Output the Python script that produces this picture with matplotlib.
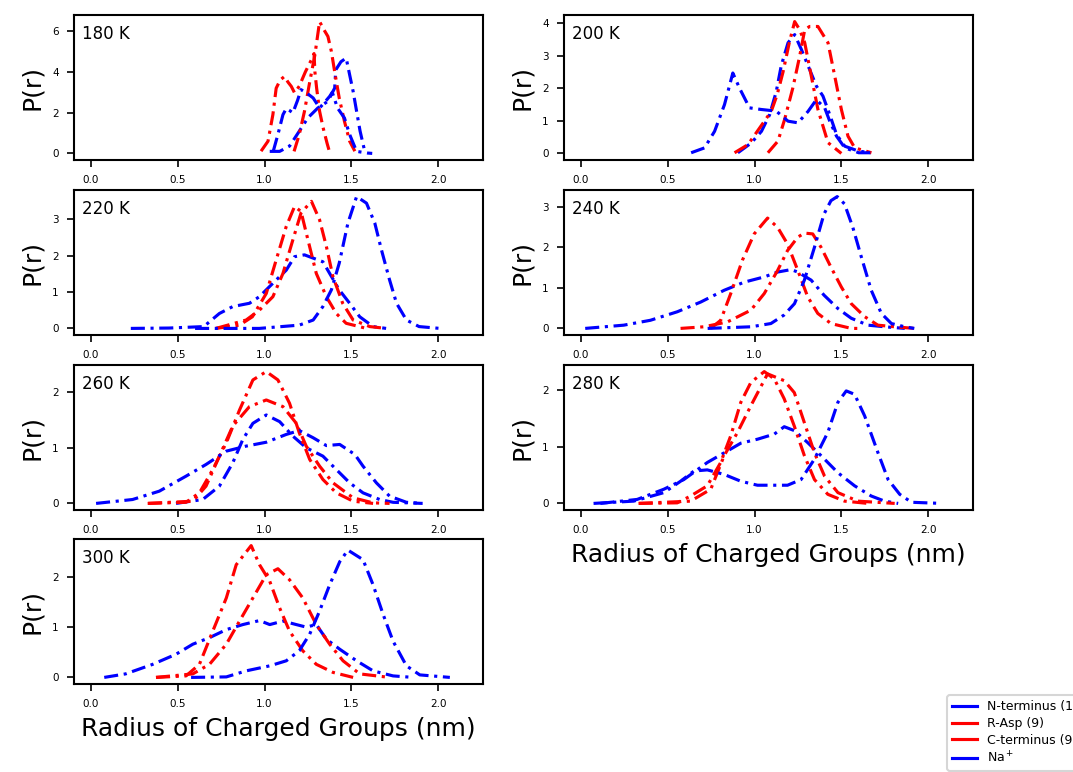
import matplotlib
matplotlib.use('Agg')
import matplotlib.pyplot as plt
from matplotlib.lines import Line2D
from matplotlib.ticker import MultipleLocator

temps = ['180 K', '200 K', '220 K', '240 K', '260 K', '280 K', '300 K']
labels = ['N-terminus (1)', 'R-Asp (9)', 'C-terminus (9)', 'Na$^+$']
colors = ['blue', 'red', 'red', 'blue']
ytick_step = [2, 1, 1, 1, 1, 1, 1]

# ---- 180 K ----
r180_nterm = [1.03, 1.087, 1.144, 1.2, 1.25, 1.307, 1.365, 1.404, 1.41, 1.44, 1.47, 1.49, 1.51, 1.53, 1.55, 1.577]
p180_nterm = [0.1, 0.1, 0.36, 1.09, 1.75, 2.23, 2.56, 3.21, 4.1, 4.5, 4.68, 3.86, 3.05, 2.07, 1.1, 0.1]
r180_rasp = [0.98, 1.02, 1.048, 1.067, 1.09, 1.115, 1.135, 1.154, 1.173, 1.2, 1.235, 1.27, 1.285, 1.29, 1.3, 1.317, 1.337, 1.36, 1.375]
p180_rasp = [0.11, 0.6, 1.9, 3.2, 3.6, 3.78, 3.5, 3.29, 2.97, 3.3, 4.0, 4.6, 4.9, 4.0, 3.2, 2.07, 1.27, 0.5, 0.05]
r180_cterm = [1.17, 1.2, 1.23, 1.26, 1.29, 1.317, 1.34, 1.365, 1.385, 1.404, 1.43, 1.46, 1.49, 1.52]
p180_cterm = [0.1, 0.93, 2.07, 3.5, 4.84, 6.47, 6.1, 5.74, 5.0, 4.0, 2.72, 1.58, 0.6, 0.11]
r180_na = [1.05, 1.077, 1.106, 1.125, 1.145, 1.163, 1.19, 1.21, 1.245, 1.28, 1.317, 1.345, 1.375, 1.39, 1.42, 1.46, 1.49, 1.53, 1.59, 1.62]
p180_na = [0.1, 0.93, 1.9, 2.2, 2.1, 1.99, 2.6, 3.13, 2.95, 2.72, 2.23, 2.5, 2.8, 3.0, 2.23, 1.74, 0.93, 0.1, 0.02, 0.0]

# ---- 200 K ----
r200_nterm = [0.904, 0.981, 1.04, 1.087, 1.125, 1.154, 1.193, 1.231, 1.27, 1.317, 1.356, 1.394, 1.433, 1.472, 1.52, 1.6, 1.67]
p200_nterm = [0.02, 0.32, 0.68, 1.19, 1.9, 2.7, 3.4, 3.65, 3.19, 2.58, 2.07, 1.76, 1.19, 0.58, 0.22, 0.07, 0.02]
r200_rasp = [0.885, 0.962, 1.029, 1.096, 1.13, 1.164, 1.2, 1.231, 1.26, 1.289, 1.327, 1.365, 1.423, 1.5]
p200_rasp = [0.02, 0.27, 0.78, 1.29, 1.8, 2.5, 3.4, 4.05, 3.8, 3.4, 2.37, 1.35, 0.33, 0.0]
r200_cterm = [1.077, 1.135, 1.173, 1.22, 1.26, 1.289, 1.317, 1.365, 1.423, 1.462, 1.5, 1.538, 1.577, 1.673]
p200_cterm = [0.02, 0.38, 1.04, 2.0, 2.99, 3.8, 3.9, 3.9, 3.4, 2.37, 1.35, 0.53, 0.17, 0.02]
r200_na = [0.635, 0.712, 0.77, 0.827, 0.875, 0.914, 0.971, 1.038, 1.125, 1.193, 1.25, 1.308, 1.356, 1.404, 1.433, 1.472, 1.52, 1.6, 1.67]
p200_na = [0.02, 0.17, 0.68, 1.5, 2.47, 2.0, 1.4, 1.35, 1.3, 0.99, 0.94, 1.29, 1.65, 1.4, 0.99, 0.53, 0.17, 0.02, 0.02]

# ---- 220 K ----
r220_nterm = [0.23, 0.45, 0.65, 0.74, 0.817, 0.913, 0.97, 1.048, 1.125, 1.173, 1.23, 1.336, 1.375, 1.43, 1.49, 1.548, 1.625, 1.7]
p220_nterm = [0.0, 0.01, 0.05, 0.41, 0.6, 0.69, 0.87, 1.24, 1.6, 1.97, 2.02, 1.83, 1.51, 1.06, 0.69, 0.32, 0.05, 0.0]
r220_rasp = [0.72, 0.856, 0.93, 1.01, 1.067, 1.125, 1.173, 1.21, 1.25, 1.298, 1.356, 1.413, 1.47, 1.587]
p220_rasp = [0.0, 0.09, 0.32, 0.96, 1.88, 2.8, 3.35, 3.21, 2.43, 1.51, 0.87, 0.41, 0.14, 0.0]
r220_cterm = [0.72, 0.894, 0.97, 1.048, 1.106, 1.163, 1.21, 1.27, 1.317, 1.356, 1.394, 1.45, 1.51, 1.606, 1.7]
p220_cterm = [0.0, 0.23, 0.5, 0.87, 1.51, 2.43, 3.17, 3.49, 2.98, 2.25, 1.42, 0.69, 0.23, 0.05, 0.0]
r220_na = [0.6, 0.97, 1.2, 1.28, 1.336, 1.385, 1.43, 1.48, 1.53, 1.587, 1.635, 1.673, 1.72, 1.76, 1.817, 1.89, 2.01]
p220_na = [0.0, 0.0, 0.09, 0.23, 0.6, 1.06, 1.79, 2.89, 3.62, 3.44, 2.89, 2.16, 1.33, 0.69, 0.23, 0.05, 0.0]

# ---- 240 K ----
r240_nterm = [0.025, 0.247, 0.4, 0.555, 0.69, 0.825, 0.94, 1.056, 1.133, 1.21, 1.249, 1.326, 1.4, 1.48, 1.557, 1.653, 1.75, 1.865]
p240_nterm = [0.0, 0.08, 0.2, 0.41, 0.65, 0.94, 1.14, 1.27, 1.39, 1.45, 1.39, 1.19, 0.82, 0.49, 0.25, 0.08, 0.04, 0.0]
r240_rasp = [0.748, 0.805, 0.863, 0.93, 0.998, 1.075, 1.133, 1.19, 1.249, 1.306, 1.364, 1.44, 1.557, 1.62]
p240_rasp = [0.0, 0.2, 0.86, 1.68, 2.33, 2.72, 2.49, 2.08, 1.43, 0.78, 0.37, 0.12, 0.0, 0.0]
r240_cterm = [0.574, 0.709, 0.844, 0.979, 1.056, 1.133, 1.19, 1.249, 1.287, 1.335, 1.383, 1.44, 1.5, 1.557, 1.634, 1.71, 1.807, 1.92]
p240_cterm = [0.0, 0.04, 0.16, 0.45, 0.86, 1.43, 1.92, 2.25, 2.35, 2.33, 2.0, 1.51, 1.02, 0.61, 0.29, 0.08, 0.04, 0.0]
r240_na = [0.73, 0.98, 1.094, 1.17, 1.23, 1.287, 1.345, 1.4, 1.44, 1.476, 1.518, 1.566, 1.615, 1.672, 1.73, 1.788, 1.865, 1.92]
p240_na = [0.0, 0.04, 0.12, 0.33, 0.61, 1.19, 2.0, 2.82, 3.15, 3.25, 3.07, 2.49, 1.76, 0.94, 0.37, 0.12, 0.04, 0.0]

# ---- 260 K ----
r260_nterm = [0.49, 0.644, 0.74, 0.817, 0.875, 0.933, 1.01, 1.087, 1.163, 1.24, 1.336, 1.413, 1.49, 1.567, 1.663, 1.74, 1.91]
p260_nterm = [0.0, 0.07, 0.31, 0.73, 1.15, 1.44, 1.59, 1.47, 1.21, 1.0, 0.85, 0.61, 0.37, 0.19, 0.07, 0.02, 0.0]
r260_rasp = [0.327, 0.548, 0.625, 0.702, 0.78, 0.856, 0.933, 1.01, 1.077, 1.144, 1.2, 1.26, 1.336, 1.413, 1.51, 1.625]
p260_rasp = [0.0, 0.02, 0.19, 0.61, 1.09, 1.68, 2.22, 2.37, 2.22, 1.8, 1.27, 0.79, 0.43, 0.19, 0.04, 0.0]
r260_cterm = [0.33, 0.587, 0.663, 0.74, 0.817, 0.913, 1.01, 1.106, 1.183, 1.24, 1.317, 1.394, 1.51, 1.625, 1.72]
p260_cterm = [0.0, 0.04, 0.31, 0.85, 1.39, 1.74, 1.86, 1.74, 1.44, 1.03, 0.67, 0.37, 0.1, 0.01, 0.0]
r260_na = [0.03, 0.24, 0.394, 0.548, 0.663, 0.78, 0.894, 1.01, 1.125, 1.2, 1.28, 1.356, 1.433, 1.52, 1.567, 1.644, 1.72, 1.817, 1.91]
p260_na = [0.0, 0.07, 0.22, 0.49, 0.7, 0.94, 1.03, 1.1, 1.24, 1.31, 1.18, 1.04, 1.06, 0.88, 0.67, 0.37, 0.13, 0.02, 0.0]

# ---- 280 K ----
r280_nterm = [0.112, 0.324, 0.478, 0.593, 0.728, 0.825, 0.921, 1.017, 1.114, 1.171, 1.23, 1.306, 1.383, 1.48, 1.576, 1.672, 1.749, 1.827]
p280_nterm = [0.0, 0.07, 0.25, 0.42, 0.72, 0.89, 1.06, 1.13, 1.22, 1.35, 1.28, 1.07, 0.84, 0.54, 0.31, 0.13, 0.04, 0.0]
r280_rasp = [0.333, 0.555, 0.632, 0.728, 0.805, 0.863, 0.921, 0.979, 1.056, 1.114, 1.171, 1.229, 1.287, 1.345, 1.422, 1.518, 1.653]
p280_rasp = [0.0, 0.01, 0.13, 0.31, 0.72, 1.19, 1.78, 2.13, 2.32, 2.19, 1.84, 1.36, 0.84, 0.42, 0.16, 0.04, 0.0]
r280_cterm = [0.333, 0.632, 0.748, 0.825, 0.902, 0.979, 1.075, 1.171, 1.229, 1.287, 1.345, 1.403, 1.48, 1.595, 1.807]
p280_cterm = [0.0, 0.04, 0.25, 0.84, 1.25, 1.72, 2.28, 2.16, 1.95, 1.42, 0.89, 0.48, 0.19, 0.04, 0.0]
r280_na = [0.073, 0.304, 0.478, 0.574, 0.651, 0.728, 0.825, 0.921, 1.017, 1.114, 1.19, 1.268, 1.345, 1.422, 1.48, 1.528, 1.576, 1.634, 1.711, 1.769, 1.836, 1.904, 2.077]
p280_na = [0.0, 0.04, 0.19, 0.39, 0.57, 0.59, 0.51, 0.39, 0.32, 0.32, 0.32, 0.42, 0.78, 1.25, 1.78, 1.98, 1.92, 1.54, 0.89, 0.42, 0.16, 0.02, 0.0]

# ---- 300 K ----
r300_nterm = [0.077, 0.2, 0.356, 0.49, 0.587, 0.683, 0.78, 0.875, 0.971, 1.03, 1.106, 1.183, 1.24, 1.298, 1.356, 1.433, 1.53, 1.625, 1.74, 1.856]
p300_nterm = [0.0, 0.07, 0.26, 0.46, 0.66, 0.79, 0.95, 1.05, 1.13, 1.05, 1.12, 1.05, 1.0, 1.05, 0.76, 0.56, 0.33, 0.13, 0.03, 0.0]
r300_rasp = [0.375, 0.548, 0.625, 0.702, 0.78, 0.837, 0.923, 0.971, 1.03, 1.087, 1.144, 1.22, 1.298, 1.394, 1.51]
p300_rasp = [0.0, 0.03, 0.26, 0.92, 1.58, 2.24, 2.62, 2.24, 1.91, 1.38, 0.92, 0.53, 0.26, 0.1, 0.0]
r300_cterm = [0.375, 0.587, 0.683, 0.78, 0.856, 0.933, 1.01, 1.077, 1.144, 1.22, 1.298, 1.375, 1.452, 1.548, 1.72]
p300_cterm = [0.0, 0.07, 0.26, 0.66, 1.12, 1.58, 2.04, 2.16, 1.94, 1.58, 1.05, 0.66, 0.33, 0.07, 0.0]
r300_na = [0.577, 0.78, 0.894, 1.03, 1.125, 1.2, 1.26, 1.317, 1.375, 1.433, 1.48, 1.567, 1.625, 1.683, 1.74, 1.817, 1.894, 2.067]
p300_na = [0.0, 0.01, 0.13, 0.23, 0.33, 0.53, 0.86, 1.32, 1.84, 2.3, 2.53, 2.34, 1.84, 1.25, 0.72, 0.23, 0.05, 0.0]

panels = [
    [(r180_nterm, p180_nterm), (r180_rasp, p180_rasp), (r180_cterm, p180_cterm), (r180_na, p180_na)],
    [(r200_nterm, p200_nterm), (r200_rasp, p200_rasp), (r200_cterm, p200_cterm), (r200_na, p200_na)],
    [(r220_nterm, p220_nterm), (r220_rasp, p220_rasp), (r220_cterm, p220_cterm), (r220_na, p220_na)],
    [(r240_nterm, p240_nterm), (r240_rasp, p240_rasp), (r240_cterm, p240_cterm), (r240_na, p240_na)],
    [(r260_nterm, p260_nterm), (r260_rasp, p260_rasp), (r260_cterm, p260_cterm), (r260_na, p260_na)],
    [(r280_nterm, p280_nterm), (r280_rasp, p280_rasp), (r280_cterm, p280_cterm), (r280_na, p280_na)],
    [(r300_nterm, p300_nterm), (r300_rasp, p300_rasp), (r300_cterm, p300_cterm), (r300_na, p300_na)],
]

fig = plt.figure(figsize=(1073 / 150, 772 / 150), dpi=150)

W, H = 1073.0, 772.0
col_left = [73.5, 563.5]
col_width = 409.0
row_top = [15.0, 190.0, 365.0, 539.0]
row_height = 145.0

for i, series in enumerate(panels):
    row, col = divmod(i, 2)
    ax = fig.add_axes([col_left[col] / W, 1 - (row_top[row] + row_height) / H,
                       col_width / W, row_height / H])
    for (r, p), c in zip(series, colors):
        ax.plot(r, p, color=c, linestyle=(0, (4.5, 1.8, 1, 1.8)), linewidth=1.5)
    ax.set_xlim(-0.1, 2.255)
    ax.set_xticks([0.0, 0.5, 1.0, 1.5, 2.0])
    ax.yaxis.set_major_locator(MultipleLocator(ytick_step[i]))
    ax.tick_params(labelsize=5)
    for s in ax.spines.values():
        s.set_linewidth(1.0)
    ax.set_ylabel('P(r)', fontsize=12)
    ax.text(0.02, 0.87, temps[i], transform=ax.transAxes, fontsize=8,
            ha='left', va='center')
    if i >= 5:
        ax.set_xlabel('Radius of Charged Groups (nm)', fontsize=12)

handles = [Line2D([], [], color=c, linewidth=1.5) for c in colors]
fig.legend(handles, labels, loc='upper left', bbox_to_anchor=(941 / W, 1 - 689 / H),
           fontsize=6, labelspacing=0.3, frameon=True)

fig.savefig('out.png', dpi=150)
